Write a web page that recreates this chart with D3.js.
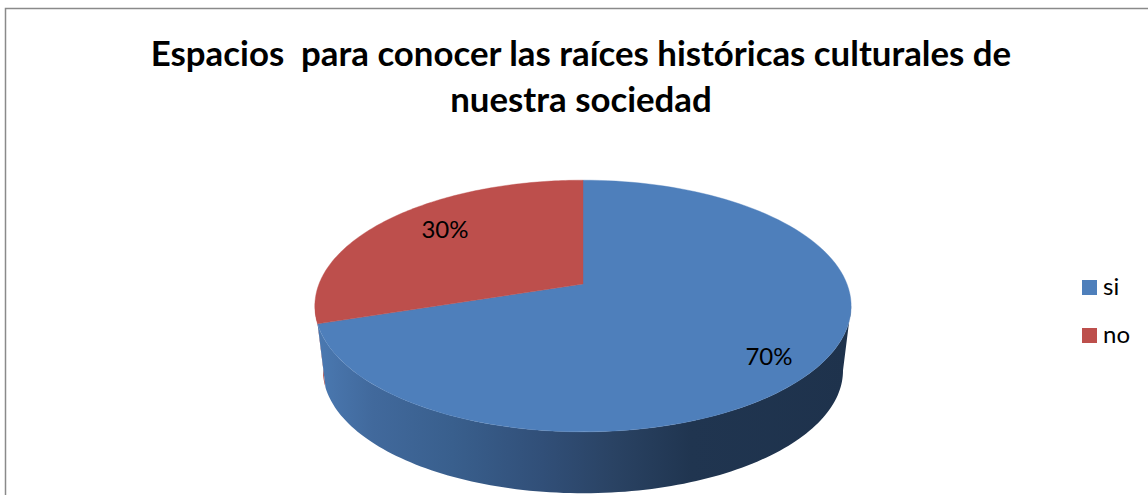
<!DOCTYPE html>
<html><head><meta charset="utf-8">
<script src="https://cdnjs.cloudflare.com/ajax/libs/d3/7.8.5/d3.min.js"></script>
<style>
html,body{margin:0;padding:0;background:#fff;overflow:hidden}
svg{display:block}
text{font-family:Lato,"Open Sans",sans-serif;fill:#000;white-space:pre}
</style></head><body><svg id="c" width="1148" height="495"></svg>
<script>
const categories = ["si", "no"];
const seriesValues = [70, 30];
const percentLabels = ["70%", "30%"];
const titleLines = ["Espacios  para conocer las raíces históricas culturales de", "nuestra sociedad"];
const colors = ["#4e7fbb", "#bd4f4c"];

const svg = d3.select("#c");
svg.append("rect").attr("x",5.5).attr("y",8.5).attr("width",1160).attr("height",520)
  .attr("fill","#fff").attr("stroke","#8a8a8a").attr("stroke-width",1.5);

const defs = svg.append("defs");
const grad = defs.append("linearGradient").attr("id","side").attr("gradientUnits","userSpaceOnUse")
  .attr("x1",320).attr("x2",850).attr("y1",0).attr("y2",0);
[[0,"#4a78b0"],[0.1,"#41699c"],[0.25,"#395f8d"],[0.42,"#314f78"],[0.55,"#2a4364"],[0.7,"#203550"],[1,"#1e324c"]]
  .forEach(([o,c])=>grad.append("stop").attr("offset",o).attr("stop-color",c));

const pie = d3.pie().sort(null)(seriesValues);
const K = 0.175;
function projector(cx, cy, b, a){
  return t => {
    const u = Math.sin(t), v = Math.cos(t), d = 1 + K*v;
    return [cx + b*u/d, cy - a*v/d];
  };
}
const topP = projector(583, 284, 264, 122);
const botP = projector(583, 349, 256, 119);
const line = d3.line();
const arcPts = (p,a0,a1) => d3.range(0,121).map(i=>p(a0+(a1-a0)*i/120));
const strip = (a0,a1) => line(arcPts(topP,a0,a1).concat(arcPts(botP,a0,a1).reverse()))+"Z";

// visible front part of the rim only
const rightTangent = Math.PI*100/180;
const leftTangent = Math.PI*262/180;
svg.append("path").attr("d", strip(pie[1].startAngle, leftTangent)).attr("fill","#a8423e");
svg.append("path").attr("d", strip(rightTangent, pie[0].endAngle)).attr("fill","url(#side)");

// top faces
pie.forEach((s,i)=>{
  svg.append("path")
    .attr("d", line([[583,284]].concat(arcPts(topP,s.startAngle,s.endAngle)))+"Z")
    .attr("fill", colors[i]).attr("stroke",colors[i]).attr("stroke-width",0.4);
});
// data labels
const labelPos = [[769,365],[445,238]];
percentLabels.forEach((t,i)=>{
  svg.append("text").attr("x",labelPos[i][0]).attr("y",labelPos[i][1]).attr("text-anchor","middle")
    .attr("font-size",24).text(t);
});
// title
titleLines.forEach((t,i)=>{
  svg.append("text").attr("x",581).attr("y",[66,112][i]).attr("text-anchor","middle")
    .attr("font-size",34.8).attr("font-weight",700).text(t);
});
// legend
categories.forEach((c,i)=>{
  const y = d3.scalePoint().domain(categories).range([280,328])(c);
  svg.append("rect").attr("x",1082).attr("y",y).attr("width",15).attr("height",15).attr("fill",colors[i]);
  svg.append("text").attr("x",1103).attr("y",y+15).attr("font-size",24).text(c);
});
</script></body></html>
